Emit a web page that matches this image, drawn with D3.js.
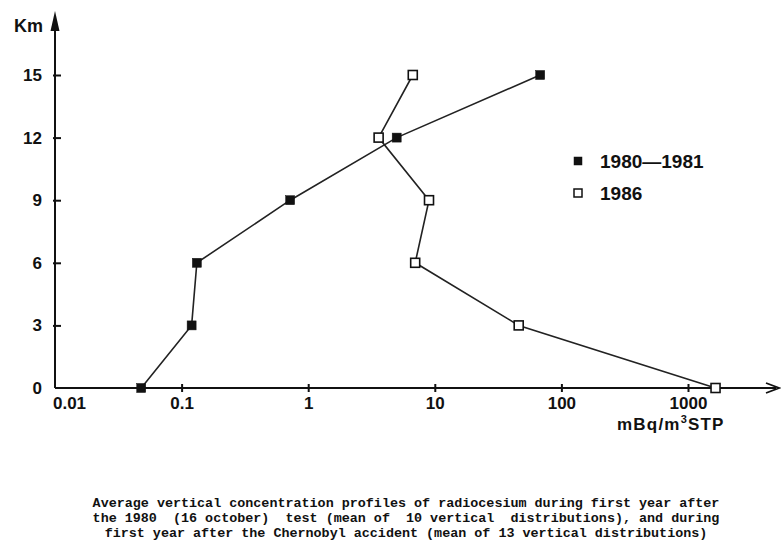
<!DOCTYPE html>
<html>
<head>
<meta charset="utf-8">
<script src="https://cdn.jsdelivr.net/npm/d3@7"></script>
<style>
  body { margin: 0; background: #fff; }
  svg { display: block; font-family: "Liberation Sans", Arial, sans-serif; }
  .caption { font-family: "Liberation Mono", "DejaVu Sans Mono", monospace; font-weight: bold; white-space: pre; }
</style>
</head>
<body>
<svg id="chart" width="781" height="544"></svg>
<script>
// heights (km) and concentrations (mBq/m3 STP)
const heights = [0, 3, 6, 9, 12, 15];
const conc1980 = [0.048, 0.12, 0.132, 0.72, 5.0, 68];
const conc1986 = [1650, 46, 7.0, 9.0, 3.6, 6.7];
const seriesNames = ['1980\u20141981', '1986'];
const xTicks = [0.01, 0.1, 1, 10, 100, 1000];
const yTicks = [0, 3, 6, 9, 12, 15];
const captionLines = [
  'Average vertical concentration profiles of radiocesium during first year after',
  'the 1980  (16 october)  test (mean of  10 vertical  distributions), and during',
  'first year after the Chernobyl accident (mean of 13 vertical distributions)'
];

const svg = d3.select('#chart');
const x = d3.scaleLog().domain([0.01, 1000]).range([55, 688]);
const y = d3.scaleLinear().domain([0, 15]).range([388, 75]);

// axes lines with arrows
svg.append('line')
  .attr('x1', x(0.01)).attr('x2', 776)
  .attr('y1', y(0)).attr('y2', y(0))
  .attr('stroke', '#111').attr('stroke-width', 2);
svg.append('path')
  .attr('d', `M766,${y(0) - 5} L779,${y(0)} L766,${y(0) + 5}`)
  .attr('fill', 'none').attr('stroke', '#111').attr('stroke-width', 1.8);
svg.append('line')
  .attr('x1', x(0.01)).attr('x2', x(0.01))
  .attr('y1', y(0)).attr('y2', 22)
  .attr('stroke', '#111').attr('stroke-width', 2);
svg.append('path')
  .attr('d', `M${x(0.01) - 4.5},31 L${x(0.01)},11 L${x(0.01) + 4.5},31 Z`)
  .attr('fill', '#111');

// x axis ticks
const xAxis = svg.append('g')
  .attr('transform', `translate(0,${y(0)})`)
  .call(d3.axisBottom(x).tickValues(xTicks).tickFormat(d => String(d)).tickSize(4).tickPadding(6));
xAxis.select('.domain').remove();
xAxis.selectAll('.tick line').attr('y1', -4).attr('y2', 4).attr('stroke', '#111').attr('stroke-width', 2)
  .filter(d => d === 0.01).remove();
xAxis.selectAll('.tick text')
  .attr('font-size', 17).attr('font-weight', 'bold').attr('fill', '#111')
  .attr('font-family', '"Liberation Sans", Arial, sans-serif')
  .attr('y', 21).attr('dy', 0)
  .filter(d => d === 0.01).attr('dx', 14);

// y axis ticks
const yAxis = svg.append('g')
  .attr('transform', `translate(${x(0.01)},0)`)
  .call(d3.axisLeft(y).tickValues(yTicks).tickSize(3).tickPadding(10));
yAxis.select('.domain').remove();
yAxis.selectAll('.tick line').attr('x1', -2).attr('x2', 6).attr('stroke', '#111').attr('stroke-width', 2)
  .filter(d => d === 0).remove();
yAxis.selectAll('.tick text')
  .attr('font-size', 17).attr('font-weight', 'bold').attr('fill', '#111')
  .attr('font-family', '"Liberation Sans", Arial, sans-serif');

// axis titles
svg.append('text').attr('x', 14).attr('y', 32)
  .attr('font-size', 18).attr('font-weight', 'bold').attr('fill', '#111').text('Km');
const unit = svg.append('text').attr('x', 617).attr('y', 430)
  .attr('font-size', 17).attr('font-weight', 'bold').attr('fill', '#111')
  .attr('letter-spacing', 1.2);
unit.append('tspan').text('mBq/m');
unit.append('tspan').attr('font-size', 11).attr('dy', -7).text('3');
unit.append('tspan').attr('dy', 7).text('STP');

// series
const series = [
  { name: seriesNames[0], values: conc1980, filled: true },
  { name: seriesNames[1], values: conc1986, filled: false }
];
const line = d3.line().x(d => x(d[0])).y(d => y(d[1]));
const ms = 9;

series.forEach(s => {
  const pts = heights.map((h, i) => [s.values[i], h]);
  svg.append('path')
    .attr('d', line(pts))
    .attr('fill', 'none').attr('stroke', '#222').attr('stroke-width', 1.6);
  svg.selectAll(null).data(pts).join('rect')
    .attr('x', d => x(d[0]) - ms / 2)
    .attr('y', d => y(d[1]) - ms / 2)
    .attr('width', ms).attr('height', ms)
    .attr('fill', s.filled ? '#111' : '#fff')
    .attr('stroke', '#111').attr('stroke-width', s.filled ? 0.5 : 1.6);
});

// legend
const legend = svg.append('g').attr('transform', 'translate(578,161)');
series.forEach((s, i) => {
  const g = legend.append('g').attr('transform', `translate(0,${i * 32})`);
  g.append('rect')
    .attr('x', -4).attr('y', -4).attr('width', 8).attr('height', 8)
    .attr('fill', s.filled ? '#111' : '#fff')
    .attr('stroke', '#111').attr('stroke-width', s.filled ? 0.5 : 1.5);
  g.append('text').attr('x', 22).attr('y', 7)
    .attr('font-size', 19).attr('font-weight', 'bold').attr('fill', '#111')
    .text(s.name);
});

// caption
svg.append('g').selectAll('text').data(captionLines).join('text')
  .attr('class', 'caption')
  .attr('x', 406).attr('y', (d, i) => 507 + i * 15)
  .attr('text-anchor', 'middle')
  .attr('font-size', 13.4).attr('fill', '#111')
  .text(d => d);
</script>
</body>
</html>
